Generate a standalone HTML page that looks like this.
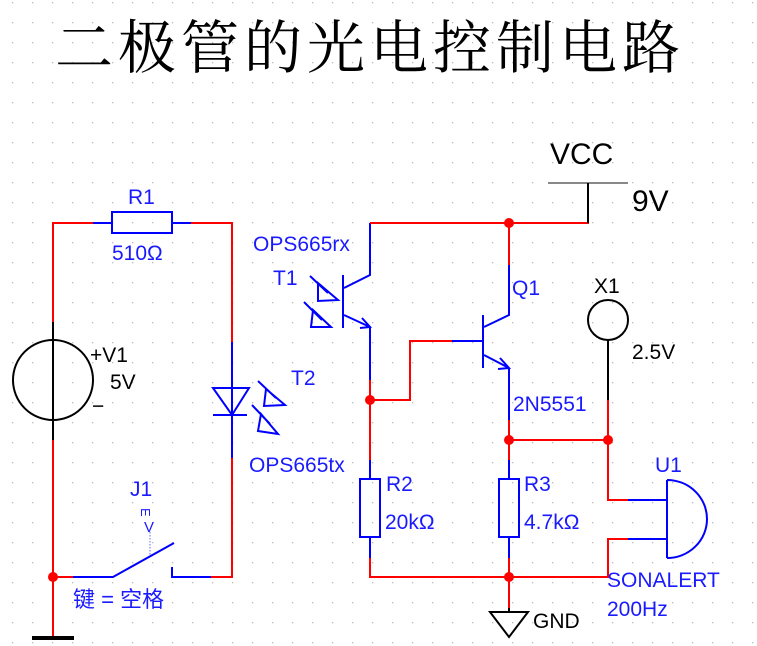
<!DOCTYPE html>
<html><head><meta charset="utf-8"><style>
html,body{margin:0;padding:0;background:#fff;}
svg{display:block;}
text{font-family:"Liberation Sans","Noto Sans CJK SC",sans-serif;}
.b{fill:#1a1aff;font-size:21px;}
.k{fill:#000;}
</style></head><body>
<svg width="757" height="646" viewBox="0 0 757 646" xmlns="http://www.w3.org/2000/svg">
<defs><pattern id="g" x="12" y="2" width="20" height="20" patternUnits="userSpaceOnUse"><rect x="0" y="0" width="1.3" height="1.3" fill="#bbb"/></pattern></defs>
<rect width="757" height="646" fill="url(#g)"/>
<text x="55" y="68" style="font-family:'Noto Serif CJK SC',serif;font-size:58px;letter-spacing:5px" fill="#000">二极管的光电控制电路</text>

<g fill="none" stroke-width="2">
<path d="M53 322 V223 H93" stroke="#f00"/>
<path d="M93 223 H112 M172 223 H191" stroke="#00f"/>
<path d="M191 223 H232 V342" stroke="#f00"/>
<rect x="112" y="212" width="60" height="21" stroke="#00f"/>
<path d="M53 322 V440" stroke="#000"/>
<circle cx="53" cy="380" r="40" stroke="#000"/>
<path d="M53 440 V638" stroke="#f00"/>
<path d="M53 577 H73" stroke="#f00"/>
<path d="M73 577 H113 L174 543 M172 567 V577 H211" stroke="#00f"/>
<path d="M211 577 H232 V458" stroke="#f00"/>
<path d="M232 342 V458 M213 388 H249 L232 415 Z M213 415 H247" stroke="#00f"/>
<path d="M150 532 V556" stroke="#66f" stroke-dasharray="1.5 1.5" stroke-width="1"/>
<path d="M258 381 L276 398 M266 389 L285 405 L264 406 Z M252 405 L270 424 M261 414 L278 434 L258 431 Z" stroke="#00f"/>
<path d="M310 276 L328 293 M318 283 L338 300 L318 301 Z M304 302 L322 320 M313 310 L331 327 L311 327 Z" stroke="#00f"/>
<path d="M343 275 V328 M344 288 L370 275 V223 M344 315 L370 327 M362 318 L370 327 L360 328 M370 327 V380" stroke="#00f"/>
<path d="M370 223 H588 V183 M509 223 V265" stroke="#f00"/>
<path d="M370 380 V460" stroke="#f00"/>
<path d="M370 460 V478 M370 537 V558" stroke="#00f"/>
<rect x="360" y="479" width="20" height="58" stroke="#00f"/>
<path d="M370 558 V577 H608 V539 H628" stroke="#f00"/>
<path d="M628 539 H667" stroke="#00f"/>
<path d="M370 400 H410 V341 H452" stroke="#f00"/>
<path d="M452 341 H483 M483 315 V368 M484 327 L509 315 V265 M484 355 L509 368 M500 358 L509 368 L498 369 M509 368 V420" stroke="#00f"/>
<path d="M509 420 V460 M509 440 H608 M509 558 V612" stroke="#f00"/>
<path d="M509 460 V479 M509 537 V558" stroke="#00f"/>
<rect x="499" y="479" width="20" height="58" stroke="#00f"/>
<path d="M608 400 V500 H628" stroke="#f00"/>
<path d="M628 500 H667 M667 480 V558 M667 480 A40 39 0 0 1 667 558" stroke="#00f"/>
<circle cx="608" cy="320" r="20" stroke="#000"/>
<path d="M608 340 V400" stroke="#000"/>
<path d="M548 183 H628" stroke="#888"/>
<path d="M588 183 V223" stroke="#000"/>
<path d="M509 612 V608 M490 612 H528 L509 637 Z" stroke="#000"/>
<path d="M32 638 H74" stroke="#000" stroke-width="4"/>
</g>
<g fill="#f00">
<circle cx="53" cy="577" r="5"/><circle cx="370" cy="400" r="5"/><circle cx="509" cy="223" r="5"/>
<circle cx="509" cy="440" r="5"/><circle cx="608" cy="440" r="5"/><circle cx="509" cy="577" r="5"/>
</g>

<text class="b" x="128" y="204">R1</text>
<text class="b" x="112" y="260">510Ω</text>
<text class="b" x="253" y="251">OPS665rx</text>
<text class="b" x="273" y="285">T1</text>
<text class="b" x="291" y="385">T2</text>
<text class="b" x="249" y="472">OPS665tx</text>
<text class="b" x="130" y="496">J1</text>
<text class="b" x="143" y="518" style="font-size:13px" transform="rotate(90 147 512)">E</text>
<text class="b" x="144" y="532" style="font-size:15px">V</text>
<text class="b" x="73" y="607" style="font-size:22px">键 = 空格</text>
<text class="k" x="90" y="362" style="font-size:21px">+V1</text>
<text class="k" x="110" y="389" style="font-size:21px">5V</text>
<text class="k" x="92" y="413" style="font-size:21px">−</text>
<text class="b" x="512" y="295">Q1</text>
<text class="k" x="594" y="293" style="font-size:21px">X1</text>
<text class="k" x="632" y="359" style="font-size:21px">2.5V</text>
<text class="b" x="513" y="411">2N5551</text>
<text class="b" x="386" y="491">R2</text>
<text class="b" x="385" y="529">20kΩ</text>
<text class="b" x="524" y="491">R3</text>
<text class="b" x="524" y="529">4.7kΩ</text>
<text class="b" x="655" y="472">U1</text>
<text class="b" x="607" y="587">SONALERT</text>
<text class="b" x="607" y="616">200Hz</text>
<text class="k" x="550" y="164" style="font-size:30px">VCC</text>
<text class="k" x="632" y="211" style="font-size:30px">9V</text>
<text class="k" x="533" y="628" style="font-size:21px">GND</text>
</svg>
</body></html>
